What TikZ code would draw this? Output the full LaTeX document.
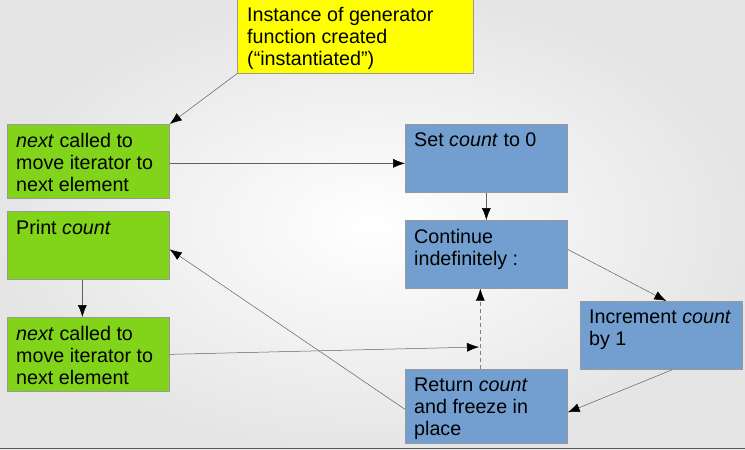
\documentclass[tikz,border=0pt]{standalone}
\usepackage{fontspec}
\setmainfont{Liberation Sans}
\usetikzlibrary{arrows.meta}
\definecolor{genyellow}{RGB}{255,255,0}
\definecolor{stepgreen}{RGB}{129,212,26}
\definecolor{loopblue}{RGB}{114,159,207}
\tikzset{
  box/.style={draw=gray!80, line width=0.7pt, minimum width=162pt, minimum height=68pt, inner sep=0pt, anchor=north west},
  txt/.style={anchor=north west, inner xsep=9pt, inner ysep=9pt, align=left, font=\fontsize{19.7}{22}\selectfont},
  flow/.style={draw=gray!75!black, line width=0.5pt, -{Latex[length=12pt,width=9pt,color=black]}}
}
\begin{document}
\begin{tikzpicture}[x=1pt,y=-1pt]
\useasboundingbox (0,0) rectangle (745,450);
\shade [inner color=white, outer color=black!10] (0,0) rectangle (745,450);
\draw [gray!70!black, line width=0.8pt] (0,448)--(745,448);

\node [box, fill=genyellow, minimum width=236pt, minimum height=74pt, label={[txt, inner xsep=10pt, inner ysep=8pt]north west:Instance of generator\\function created\\(“instantiated”)}] (inst) at (237,-1) {};
\node [box, fill=stepgreen, minimum height=74pt, label={[txt]north west:\textit{next} called to\\move iterator to\\next element}] (next1) at (7,124) {};
\node [box, fill=stepgreen, label={[txt]north west:Print \textit{count}}] (print) at (7,211) {};
\node [box, fill=stepgreen, minimum height=74pt, label={[txt]north west:\textit{next} called to\\move iterator to\\next element}] (next2) at (7,317) {};
\node [box, fill=loopblue, label={[txt]north west:Set \textit{count} to 0}] (setc) at (405,124) {};
\node [box, fill=loopblue, label={[txt]north west:Continue\\indefinitely :}] (cont) at (405,220) {};
\node [box, fill=loopblue, label={[txt]north west:Increment \textit{count}\\by 1}] (incr) at (580,301) {};
\node [box, fill=loopblue, minimum height=74pt, label={[txt]north west:Return \textit{count}\\and freeze in\\place}] (ret) at (405,369) {};
\coordinate (meet) at (479,347);

\draw [flow] (inst.south west) -- (next1.north east);
\draw [flow] ([yshift=-2pt]next1.east) -- ([yshift=-2pt]next1.east -| setc.west);
\draw [flow] (setc.south) -- (cont.north);
\draw [flow] ([yshift=5pt]cont.east) -- ([xshift=5pt]incr.north);
\draw [flow] ([xshift=11pt]incr.south) -- ([yshift=-6pt]ret.east);
\draw [flow] ([yshift=-3pt]ret.west) -- ([yshift=-4pt]print.east);
\draw [flow] ([xshift=-6pt]print.south) -- ([xshift=-6pt]next2.north);
\draw [flow] (next2.east) -- (meet);
\draw [flow, draw=gray, dash pattern=on 4pt off 3pt] ([xshift=-6pt]ret.north) -- ([xshift=-6pt]cont.south);

\end{tikzpicture}
\end{document}
